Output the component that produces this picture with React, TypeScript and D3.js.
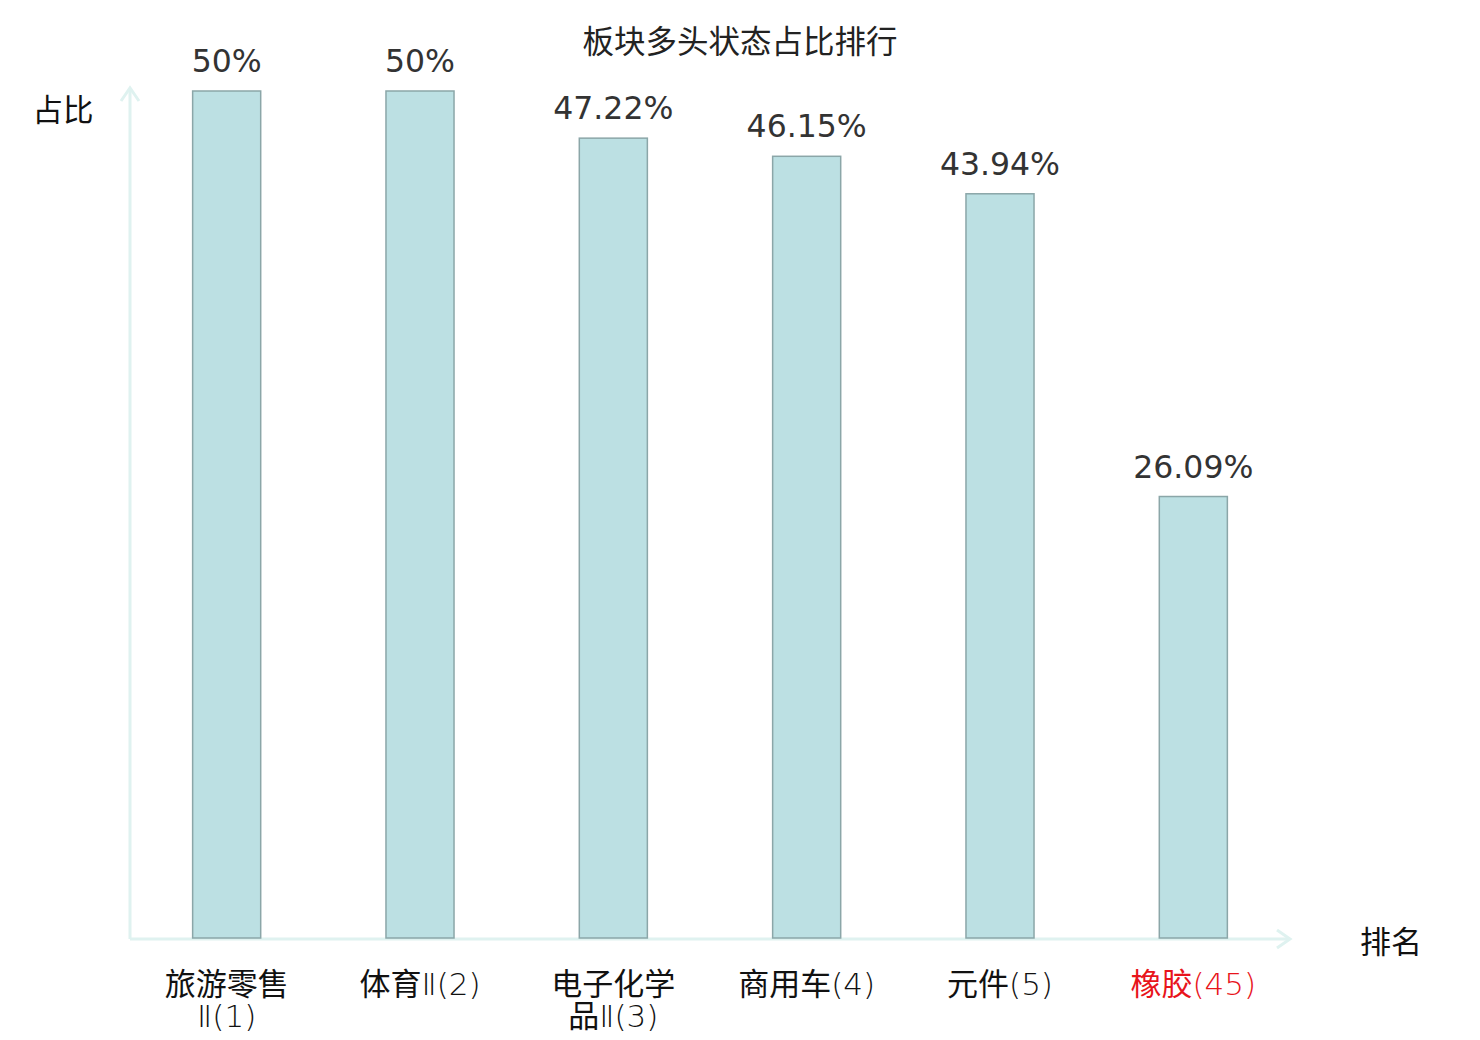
import React from 'react';
import * as d3 from 'd3';

const categories = ['旅游零售Ⅱ(1)', '体育Ⅱ(2)', '电子化学品Ⅱ(3)', '商用车(4)', '元件(5)', '橡胶(45)'];
const shares = [50, 50, 47.22, 46.15, 43.94, 26.09];
const valueLabels = ['50%', '50%', '47.22%', '46.15%', '43.94%', '26.09%'];
const highlighted = ['橡胶(45)'];

const W = 1480;
const H = 1040;
const margin = { left: 130, right: 190, top: 91, bottom: 101 };
const AXIS = '#dff2f0';
const CJK = '"Noto Sans CJK SC", "Noto Sans", sans-serif';
const LATIN = '"DejaVu Sans", sans-serif';

// break long labels after 4 characters, like the source chart
const wrap = (s: string) => (s.length > 7 ? [s.slice(0, 4), s.slice(4)] : [s]);

// split a line into runs of han characters and the rest (drawn thin)
const runs = (s: string) => s.match(/[\u4e00-\u9fff]+|[^\u4e00-\u9fff]+/g) || [];

export default function App() {
  const x0 = margin.left;
  const x1 = W - margin.right;
  const yBase = H - margin.bottom;

  const x = d3.scaleBand<string>().domain(categories).range([x0, x1]).paddingInner(0.648).paddingOuter(0.324);
  const y = d3.scaleLinear().domain([0, 50]).range([yBase, margin.top]);

  return (
    <svg width={W} height={H} style={{ position: 'absolute', left: 0, top: 0, background: '#fff' }}>
      <text x={W / 2} y={53} textAnchor="middle" fontFamily={CJK} fontSize={31.5} fill="#222">
        板块多头状态占比排行
      </text>

      {/* axes */}
      <g stroke={AXIS} strokeWidth={3} fill="none">
        <line x1={x0} y1={yBase} x2={x0} y2={margin.top - 3} />
        <polyline points={`${x0 - 9},${margin.top + 10} ${x0},${margin.top - 3} ${x0 + 9},${margin.top + 10}`} />
        <line x1={x0} y1={yBase} x2={x1} y2={yBase} />
        <polyline points={`${x1 - 13},${yBase - 9} ${x1},${yBase} ${x1 - 13},${yBase + 9}`} />
      </g>
      <text x={63} y={121} textAnchor="middle" fontFamily={CJK} fontSize={30.5} fill="#111">占比</text>
      <text x={1391} y={953} textAnchor="middle" fontFamily={CJK} fontSize={31} fill="#111">排名</text>

      {/* bars */}
      {categories.map((c, i) => {
        const cx = x(c)! + x.bandwidth() / 2;
        return (
          <g key={c}>
            <rect
              x={x(c)!}
              y={y(shares[i])}
              width={x.bandwidth()}
              height={yBase - y(shares[i]) - 1}
              fill="#bce0e3"
              stroke="#8ba6a8"
              strokeWidth={1.5}
            />
            <text x={cx} y={y(shares[i]) - 19} textAnchor="middle" fontFamily={LATIN} fontSize={31.5} fill="#333">
              {valueLabels[i]}
            </text>
            {wrap(c).map((line, j) => (
              <text
                key={j}
                x={cx}
                y={995 + j * 32}
                textAnchor="middle"
                fontSize={31}
                fill={highlighted.includes(c) ? '#e8141b' : '#111'}
              >
                {runs(line).map((r, k) =>
                  /[\u4e00-\u9fff]/.test(r) ? (
                    <tspan key={k} fontFamily={CJK} fontWeight={400}>{r}</tspan>
                  ) : (
                    <tspan key={k} fontFamily={LATIN} fontWeight={200}>{r}</tspan>
                  )
                )}
              </text>
            ))}
          </g>
        );
      })}
    </svg>
  );
}
